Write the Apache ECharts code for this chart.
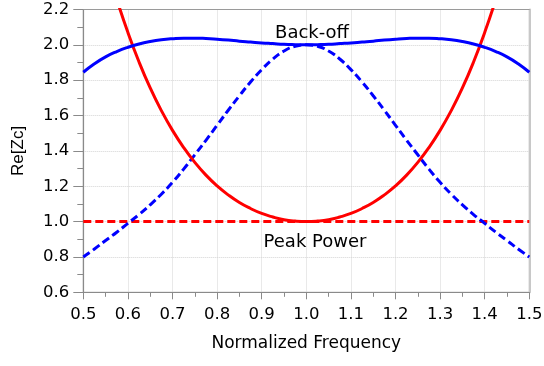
<!DOCTYPE html>
<html><head><meta charset="utf-8">
<script src="https://cdn.jsdelivr.net/npm/echarts@6/dist/echarts.min.js"></script>
<style>html,body{margin:0;padding:0;background:#fff}#c{width:544px;height:366px}</style>
</head><body><div id="c"></div>
<script>
const freq = [0.5,0.525,0.55,0.575,0.6,0.625,0.65,0.675,0.7,0.725,0.75,0.775,0.8,0.825,0.85,0.875,0.9,0.925,0.95,0.975,1.0,
  1.025,1.05,1.075,1.1,1.125,1.15,1.175,1.2,1.225,1.25,1.275,1.3,1.325,1.35,1.375,1.4,1.425,1.45,1.475,1.5];
const backoffSolid = [1.845,1.893,1.932,1.962,1.986,2.005,2.019,2.029,2.035,2.038,2.038,2.036,2.032,2.027,2.021,2.016,2.011,2.007,2.003,2.001,2.0,
  2.001,2.003,2.007,2.011,2.016,2.021,2.027,2.032,2.036,2.038,2.038,2.035,2.029,2.019,2.005,1.986,1.962,1.932,1.893,1.845];
const backoffDashed = [0.80,0.845,0.893,0.94,0.99,1.04,1.095,1.155,1.222,1.297,1.378,1.46,1.545,1.63,1.712,1.79,1.86,1.92,1.965,1.992,2.0,
  1.992,1.965,1.92,1.86,1.79,1.712,1.63,1.545,1.46,1.378,1.297,1.222,1.155,1.095,1.04,0.99,0.94,0.893,0.845,0.80];
const peakSolid = [2.98,2.71,2.47,2.258,2.07,1.903,1.756,1.628,1.516,1.419,1.335,1.263,1.202,1.151,1.108,1.074,1.046,1.026,1.011,1.003,1.0,
  1.003,1.011,1.026,1.046,1.074,1.108,1.151,1.202,1.263,1.335,1.419,1.516,1.628,1.756,1.903,2.07,2.258,2.47,2.71,2.98];
const peakDashedX = [0.5, 1.5];
const peakDashedY = [1.0, 1.0];
const xTicks = [0.5,0.6,0.7,0.8,0.9,1.0,1.1,1.2,1.3,1.4,1.5];
const yTicks = [0.6,0.8,1.0,1.2,1.4,1.6,1.8,2.0,2.2];

const pair = (xs, ys) => xs.map((x, i) => [x, ys[i]]);
const chart = echarts.init(document.getElementById('c'));
const lbl = {fontFamily:'DejaVu Sans', fontSize:16.5, color:'#000'};
chart.setOption({
  animation:false,
  grid:{left:83.3, right:14.7, top:9.5, bottom:73.7, containLabel:false, outerBoundsMode:'none', show:true, borderColor:'#9a9a9a', borderWidth:1},
  xAxis:[{
    type:'value', min:0.5, max:1.5, interval:0.1,
    axisLine:{lineStyle:{color:'#8a8a8a', width:1.2}},
    axisTick:{inside:false, length:7, lineStyle:{color:'#8a8a8a'}},
    minorTick:{show:true, splitNumber:2, length:4.5, lineStyle:{color:'#8a8a8a'}},
    splitLine:{show:true, lineStyle:{color:'#d4d4d4', type:'dotted'}},
    axisLabel:Object.assign({margin:14, formatter:v=>v.toFixed(1)}, lbl),
    name:'Normalized Frequency', nameLocation:'middle', nameGap:43,
    nameTextStyle:{fontFamily:'DejaVu Sans', fontSize:17, color:'#000'}
  },{
    type:'value', position:'top', min:0.5, max:1.5,
    axisLine:{show:true, lineStyle:{color:'#9a9a9a', width:1}},
    axisTick:{show:false}, axisLabel:{show:false}, splitLine:{show:false}
  }],
  yAxis:[{
    type:'value', min:0.6, max:2.2, interval:0.2,
    axisLine:{show:true, lineStyle:{color:'#8a8a8a', width:1.2}},
    axisTick:{show:true, inside:false, length:10, lineStyle:{color:'#8a8a8a'}},
    minorTick:{show:true, splitNumber:2, length:6, lineStyle:{color:'#8a8a8a'}},
    splitLine:{show:true, lineStyle:{color:'#d4d4d4', type:'dotted'}},
    axisLabel:Object.assign({margin:14, formatter:v=>v.toFixed(1)}, lbl),
    name:'Re[Zc]', nameLocation:'middle', nameGap:56, nameRotate:90,
    nameTextStyle:{fontFamily:'Liberation Sans', fontSize:17, color:'#000'}
  },{
    type:'value', position:'right', min:0.6, max:2.2,
    axisLine:{show:true, lineStyle:{color:'#c8c8c8', width:2}},
    axisTick:{show:false}, axisLabel:{show:false}, splitLine:{show:false}
  }],
  series:[
    {type:'line', data:pair(peakDashedX, peakDashedY), showSymbol:false, lineStyle:{color:'#ff0000', width:3, type:[8,4]}},
    {type:'line', data:pair(freq, backoffDashed), smooth:0.5, showSymbol:false, lineStyle:{color:'#0000ff', width:3, type:[8,4]}},
    {type:'line', data:pair(freq, peakSolid), smooth:0.5, showSymbol:false, clip:true, lineStyle:{color:'#ff0000', width:3}},
    {type:'line', data:pair(freq, backoffSolid), smooth:0.5, showSymbol:false, lineStyle:{color:'#0000ff', width:3}}
  ],
  graphic:[
    {type:'text', x:312, y:33, style:{text:'Back-off', fontFamily:'DejaVu Sans', fontSize:18, fill:'#000', align:'center', verticalAlign:'middle'}, z:100},
    {type:'text', x:315, y:242, style:{text:'Peak Power', fontFamily:'DejaVu Sans', fontSize:18, fill:'#000', align:'center', verticalAlign:'middle'}, z:100}
  ]
});
</script></body></html>
